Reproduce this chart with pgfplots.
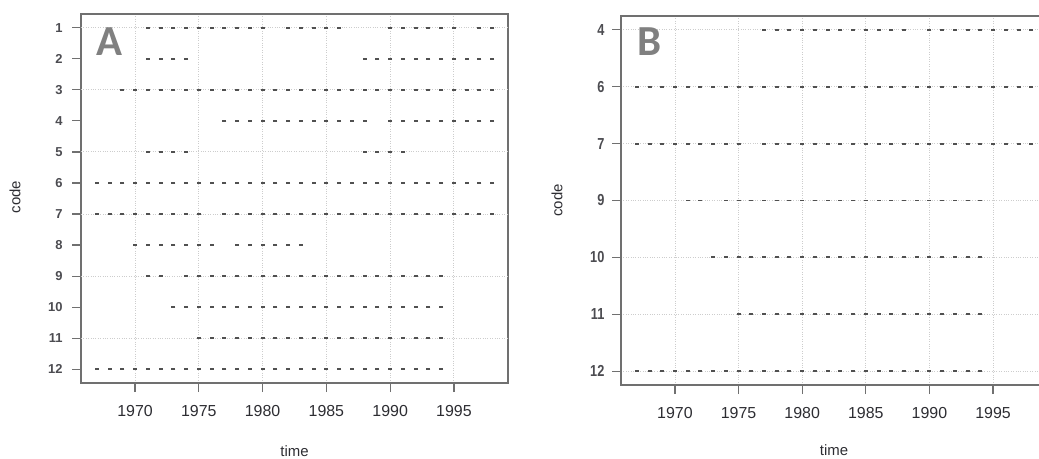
\documentclass[border=0pt]{standalone}
\usepackage{pgfplots}
\pgfplotsset{compat=1.18}
\usepackage{fontspec}
\setmainfont{Liberation Sans}
\newfontfamily\panelfont{Carlito}
\definecolor{axgray}{RGB}{112,112,112}
\definecolor{gridgray}{RGB}{205,205,205}
\definecolor{dashc}{RGB}{80,80,80}
\definecolor{txt}{RGB}{45,45,50}
\definecolor{lettergray}{RGB}{128,128,128}
\pgfplotsset{
  rstyle/.style={
    scale only axis,
    anchor=south west,
    xmin=1965.76, xmax=1999.24,
    y dir=reverse,
    xtick={1970,1975,...,1995},
    tick align=outside,
    xtick pos=left, ytick pos=left,
    major tick length=9bp,
    tick style={draw=axgray, line width=1.2bp, solid},
    xtick style={draw=axgray, line width=1.2bp, solid},
    ytick style={draw=axgray, line width=1.2bp, solid},
    axis line style={axgray, line width=1.6bp},
    xmajorgrids,
    grid style={gridgray, dotted, line width=0.9bp},
    /pgf/number format/assume math mode=true,
    /pgf/number format/1000 sep={},
    xticklabel style={font=\fontsize{16}{18}\selectfont, text=txt, yshift=-10bp},
    xlabel={time}, ylabel={code},
    cycle list={{dashc}},
    every axis plot post/.append style={only marks, mark=-, mark size=2bp, mark options={solid, draw=dashc, line width=1.9bp}},
  }
}
\begin{document}
\begin{tikzpicture}
% ---------------- Panel A ----------------
\begin{axis}[rstyle,
  at={(81bp,76bp)}, width=427bp, height=369bp,
  ymin=0.56, ymax=12.44,
  ytick={1,2,...,12},
  yticklabel style={font=\bfseries\fontsize{13}{15}\selectfont, text=txt!85, xshift=-6bp},
  extra y ticks={1,3,5,7,9,11}, extra y tick labels={},
  extra y tick style={ymajorgrids, major tick length=0pt},
  every axis x label/.style={at={(axis description cs:0.5,-0.184)}, anchor=center, font=\fontsize{15}{17}\selectfont, text=txt},
  every axis y label/.style={at={(axis description cs:-0.1546,0.504)}, rotate=90, anchor=center, font=\fontsize{15}{17}\selectfont, text=txt},
]
\addplot coordinates {(1971,1)(1972,1)(1973,1)(1974,1)(1975,1)(1976,1)(1977,1)(1978,1)(1979,1)(1980,1)(1982,1)(1983,1)(1984,1)(1985,1)(1986,1)(1990,1)(1991,1)(1992,1)(1993,1)(1994,1)(1995,1)(1997,1)(1998,1)};
\addplot coordinates {(1971,2)(1972,2)(1973,2)(1974,2)(1988,2)(1989,2)(1990,2)(1991,2)(1992,2)(1993,2)(1994,2)(1995,2)(1996,2)(1997,2)(1998,2)};
\addplot coordinates {(1969,3)(1970,3)(1971,3)(1972,3)(1973,3)(1974,3)(1975,3)(1976,3)(1977,3)(1978,3)(1979,3)(1980,3)(1981,3)(1982,3)(1983,3)(1984,3)(1985,3)(1986,3)(1987,3)(1988,3)(1989,3)(1990,3)(1991,3)(1992,3)(1993,3)(1994,3)(1995,3)(1996,3)(1997,3)(1998,3)};
\addplot coordinates {(1977,4)(1978,4)(1979,4)(1980,4)(1981,4)(1982,4)(1983,4)(1984,4)(1985,4)(1986,4)(1987,4)(1988,4)(1990,4)(1991,4)(1992,4)(1993,4)(1994,4)(1995,4)(1996,4)(1997,4)(1998,4)};
\addplot coordinates {(1971,5)(1972,5)(1973,5)(1974,5)(1988,5)(1989,5)(1990,5)(1991,5)};
\addplot coordinates {(1967,6)(1968,6)(1969,6)(1970,6)(1971,6)(1972,6)(1973,6)(1974,6)(1975,6)(1976,6)(1977,6)(1978,6)(1979,6)(1980,6)(1981,6)(1982,6)(1983,6)(1984,6)(1985,6)(1986,6)(1987,6)(1988,6)(1989,6)(1990,6)(1991,6)(1992,6)(1993,6)(1994,6)(1995,6)(1996,6)(1997,6)(1998,6)};
\addplot coordinates {(1967,7)(1968,7)(1969,7)(1970,7)(1971,7)(1972,7)(1973,7)(1974,7)(1975,7)(1977,7)(1978,7)(1979,7)(1980,7)(1981,7)(1982,7)(1983,7)(1984,7)(1985,7)(1986,7)(1987,7)(1988,7)(1989,7)(1990,7)(1991,7)(1992,7)(1993,7)(1994,7)(1995,7)(1996,7)(1997,7)(1998,7)};
\addplot coordinates {(1970,8)(1971,8)(1972,8)(1973,8)(1974,8)(1975,8)(1976,8)(1978,8)(1979,8)(1980,8)(1981,8)(1982,8)(1983,8)};
\addplot coordinates {(1971,9)(1972,9)(1974,9)(1975,9)(1976,9)(1977,9)(1978,9)(1979,9)(1980,9)(1981,9)(1982,9)(1983,9)(1984,9)(1985,9)(1986,9)(1987,9)(1988,9)(1989,9)(1990,9)(1991,9)(1992,9)(1993,9)(1994,9)};
\addplot coordinates {(1973,10)(1974,10)(1975,10)(1976,10)(1977,10)(1978,10)(1979,10)(1980,10)(1981,10)(1982,10)(1983,10)(1984,10)(1985,10)(1986,10)(1987,10)(1988,10)(1989,10)(1990,10)(1991,10)(1992,10)(1993,10)(1994,10)};
\addplot coordinates {(1975,11)(1976,11)(1977,11)(1978,11)(1979,11)(1980,11)(1981,11)(1982,11)(1983,11)(1984,11)(1985,11)(1986,11)(1987,11)(1988,11)(1989,11)(1990,11)(1991,11)(1992,11)(1993,11)(1994,11)};
\addplot coordinates {(1967,12)(1968,12)(1969,12)(1970,12)(1971,12)(1972,12)(1973,12)(1974,12)(1975,12)(1976,12)(1977,12)(1978,12)(1979,12)(1980,12)(1981,12)(1982,12)(1983,12)(1984,12)(1985,12)(1986,12)(1987,12)(1988,12)(1989,12)(1990,12)(1991,12)(1992,12)(1993,12)(1994,12)};
\node[anchor=base west, inner sep=0pt, text=lettergray, font=\panelfont\bfseries\fontsize{43}{45}\selectfont] at (axis description cs:0.037,0.887) {A};
\end{axis}
% ---------------- Panel B ----------------
\begin{axis}[rstyle,
  at={(621bp,74bp)}, width=426bp, height=369bp,
  ymin=-0.24, ymax=6.24,
  ytick={0,1,2,3,4,5,6},
  yticklabels={4,6,7,9,10,11,12},
  yticklabel style={font=\bfseries\fontsize{16}{18}\selectfont, text=txt!85, xscale=0.8, xshift=-6bp},
  ymajorgrids,
  every axis x label/.style={at={(axis description cs:0.5,-0.176)}, anchor=center, font=\fontsize{15}{17}\selectfont, text=txt},
  every axis y label/.style={at={(axis description cs:-0.150,0.5)}, rotate=90, anchor=center, font=\fontsize{15}{17}\selectfont, text=txt},
]
\addplot coordinates {(1977,0)(1978,0)(1979,0)(1980,0)(1981,0)(1982,0)(1983,0)(1984,0)(1985,0)(1986,0)(1987,0)(1988,0)(1990,0)(1991,0)(1992,0)(1993,0)(1994,0)(1995,0)(1996,0)(1997,0)(1998,0)};
\addplot coordinates {(1967,1)(1968,1)(1969,1)(1970,1)(1971,1)(1972,1)(1973,1)(1974,1)(1975,1)(1976,1)(1977,1)(1978,1)(1979,1)(1980,1)(1981,1)(1982,1)(1983,1)(1984,1)(1985,1)(1986,1)(1987,1)(1988,1)(1989,1)(1990,1)(1991,1)(1992,1)(1993,1)(1994,1)(1995,1)(1996,1)(1997,1)(1998,1)};
\addplot coordinates {(1967,2)(1968,2)(1969,2)(1970,2)(1971,2)(1972,2)(1973,2)(1974,2)(1975,2)(1977,2)(1978,2)(1979,2)(1980,2)(1981,2)(1982,2)(1983,2)(1984,2)(1985,2)(1986,2)(1987,2)(1988,2)(1989,2)(1990,2)(1991,2)(1992,2)(1993,2)(1994,2)(1995,2)(1996,2)(1997,2)(1998,2)};
\addplot coordinates {(1971,3)(1972,3)(1974,3)(1975,3)(1976,3)(1977,3)(1978,3)(1979,3)(1980,3)(1981,3)(1982,3)(1983,3)(1984,3)(1985,3)(1986,3)(1987,3)(1988,3)(1989,3)(1990,3)(1991,3)(1992,3)(1993,3)(1994,3)};
\addplot coordinates {(1973,4)(1974,4)(1975,4)(1976,4)(1977,4)(1978,4)(1979,4)(1980,4)(1981,4)(1982,4)(1983,4)(1984,4)(1985,4)(1986,4)(1987,4)(1988,4)(1989,4)(1990,4)(1991,4)(1992,4)(1993,4)(1994,4)};
\addplot coordinates {(1975,5)(1976,5)(1977,5)(1978,5)(1979,5)(1980,5)(1981,5)(1982,5)(1983,5)(1984,5)(1985,5)(1986,5)(1987,5)(1988,5)(1989,5)(1990,5)(1991,5)(1992,5)(1993,5)(1994,5)};
\addplot coordinates {(1967,6)(1968,6)(1969,6)(1970,6)(1971,6)(1972,6)(1973,6)(1974,6)(1975,6)(1976,6)(1977,6)(1978,6)(1979,6)(1980,6)(1981,6)(1982,6)(1983,6)(1984,6)(1985,6)(1986,6)(1987,6)(1988,6)(1989,6)(1990,6)(1991,6)(1992,6)(1993,6)(1994,6)};
\node[anchor=base west, inner sep=0pt, text=lettergray, font=\panelfont\bfseries\fontsize{43}{45}\selectfont] at (axis description cs:0.038,0.892) {B};
\end{axis}
\pgfresetboundingbox
\path[use as bounding box] (0,0) rectangle (1039bp,459bp);
\end{tikzpicture}
\end{document}
